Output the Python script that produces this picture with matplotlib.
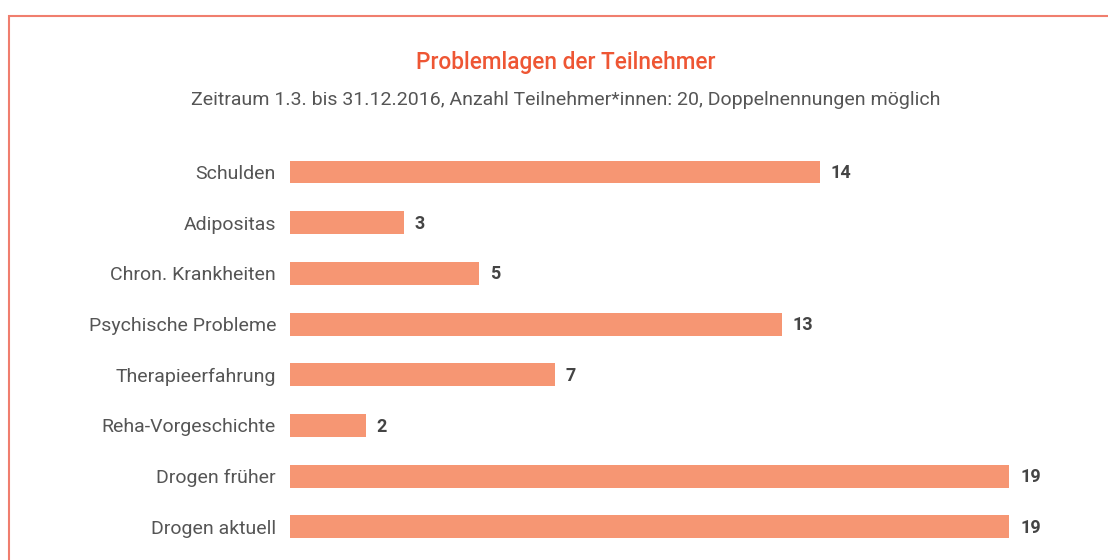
import matplotlib.pyplot as plt
from matplotlib.patches import Rectangle

categories = ['Schulden', 'Adipositas', 'Chron. Krankheiten', 'Psychische Probleme',
              'Therapieerfahrung', 'Reha-Vorgeschichte', 'Drogen früher', 'Drogen aktuell']
values = [14, 3, 5, 13, 7, 2, 19, 19]

title = 'Problemlagen der Teilnehmer'
subtitle = 'Zeitraum 1.3. bis 31.12.2016, Anzahl Teilnehmer*innen: 20, Doppelnennungen möglich'

plt.rcParams['font.family'] = ['Roboto', 'DejaVu Sans']

W, H = 1108, 560
fig = plt.figure(figsize=(W / 100, H / 100), dpi=100)

# frame, open to the right and bottom
fig.patches.append(Rectangle((8.5 / W, -0.1), 2, 1.1 - 15.5 / H, transform=fig.transFigure,
                             fill=False, edgecolor='#F07E6E', linewidth=1.5))

fig.text(566 / W, 1 - 62 / H, title, ha='center', va='center', fontsize=16.3,
         color='#EE5634', fontweight='medium')
fig.text(566 / W, 1 - 100 / H, subtitle, ha='center', va='center', fontsize=14,
         color='#555555')

px = 719 / 19
xmax = 20
step = 50.7
top = 172 - step / 2
ax = fig.add_axes([290 / W, 1 - (top + 8 * step) / H, xmax * px / W, 8 * step / H])
ys = list(range(len(categories)))
ax.barh(ys, values, height=0.45, color='#F69673')
ax.set_xlim(0, xmax)
ax.set_ylim(len(categories) - 0.5, -0.5)
ax.set_yticks(ys)
ax.set_yticklabels(categories, fontsize=14, color='#555555')
ax.tick_params(axis='y', length=0, pad=10)
ax.set_xticks([])
for s in ax.spines.values():
    s.set_visible(False)
for y, v in zip(ys, values):
    ax.text(v + 11 / px, y + 0.02, str(v), va='center', ha='left', fontsize=13,
            fontweight='bold', color='#444444')

fig.savefig('out.png', dpi=100)
